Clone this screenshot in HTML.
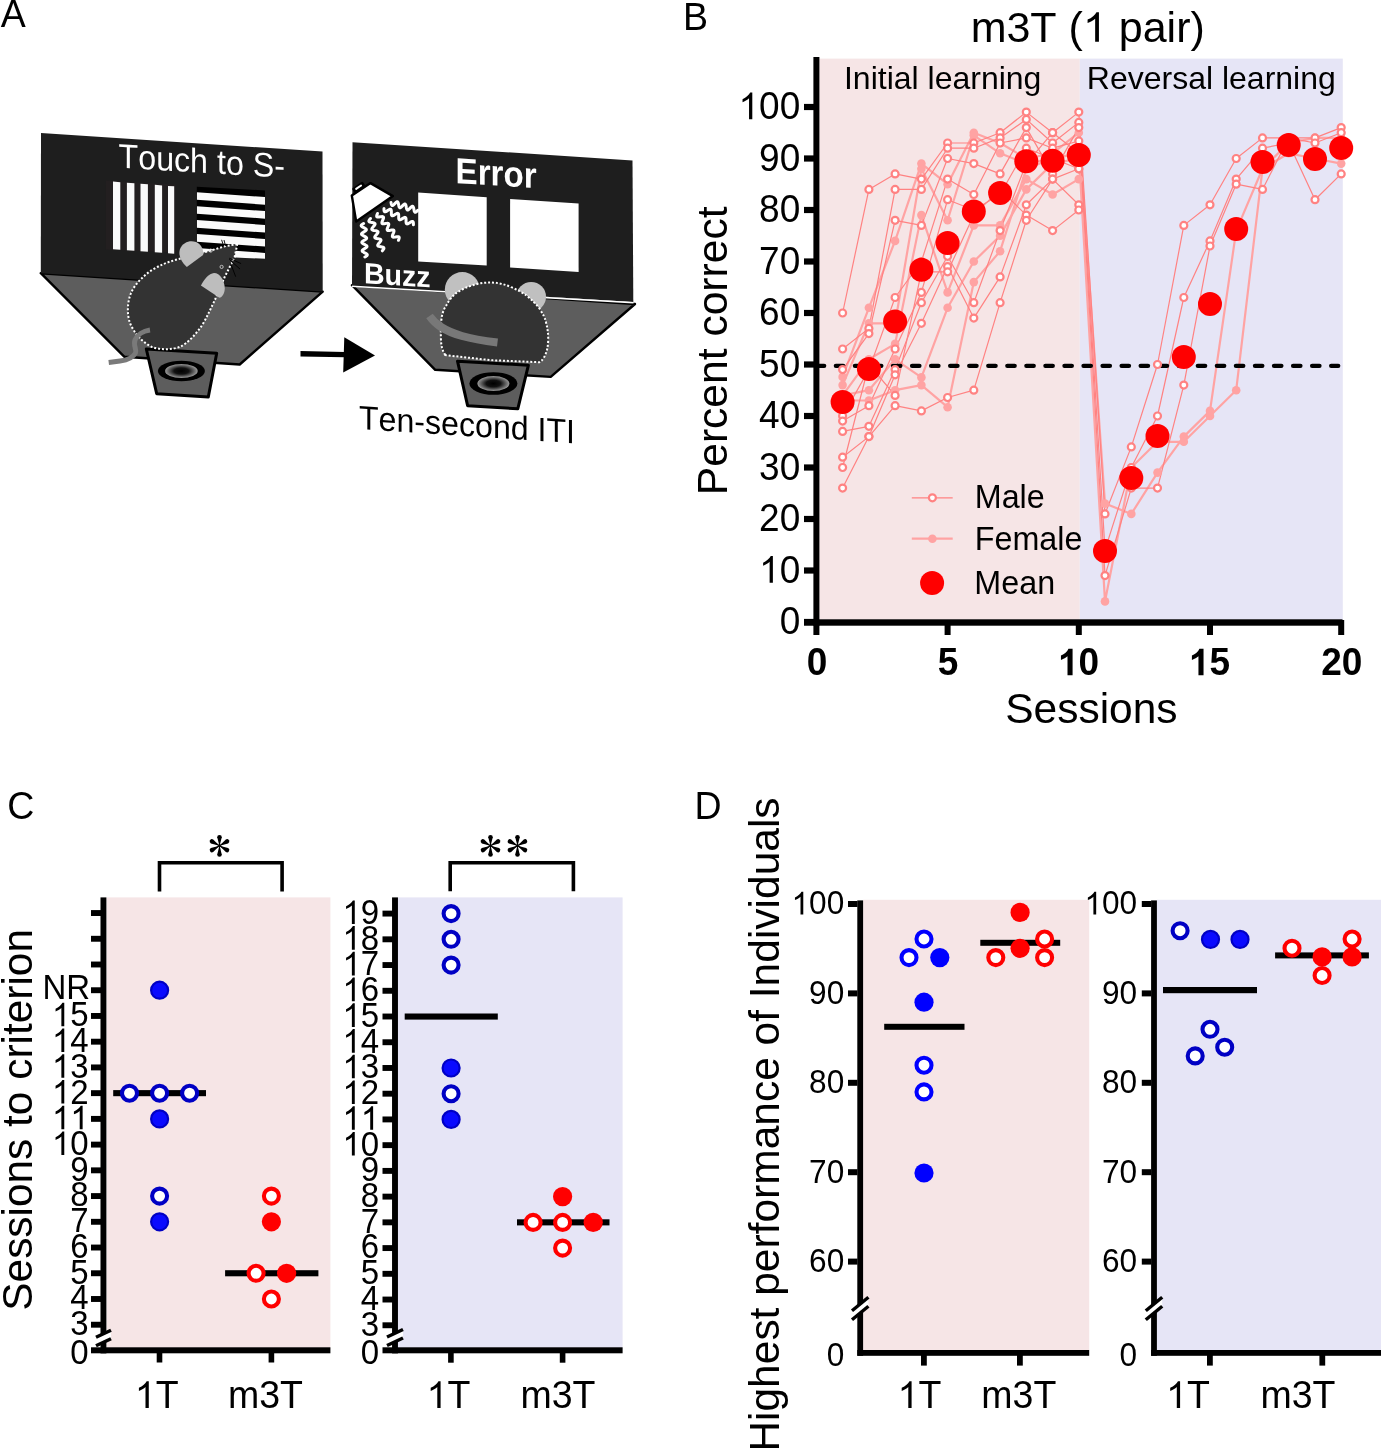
<!DOCTYPE html>
<html><head><meta charset="utf-8"><title>Figure</title>
<style>
html,body{margin:0;padding:0;background:#fff;overflow:hidden;}
svg{display:block;will-change:transform;}
text{font-family:"Liberation Sans",sans-serif;font-kerning:none;}
</style></head><body>
<svg width="1382" height="1448" viewBox="0 0 1382 1448">
<defs><radialGradient id="hole" cx="50%" cy="50%" r="50%"><stop offset="0" stop-color="#000"/><stop offset="0.45" stop-color="#111"/><stop offset="1" stop-color="#9a9a9a"/></radialGradient></defs>
<rect width="1382" height="1448" fill="#fff"/>
<g transform="translate(0.83,26.70) scale(1,1.040)"><text font-size="37.50">A</text></g>
<polygon points="40.8,273.2 322.7,291.6 239.7,364.5 124.2,356.7" fill="#5d5d5d" stroke="#000" stroke-width="2.4" stroke-linejoin="round"/>
<polygon points="41,133 322.5,151.5 322.7,291.6 40.8,273.2" fill="#1e1e1e"/>
<text x="0" y="0" font-size="34" fill="#fff" transform="translate(118.6,167.6) skewY(3.5)" textLength="166.3" lengthAdjust="spacingAndGlyphs">Touch to S-</text>
<polygon points="105.8,180.5 175.5,184.5 175.5,252.5 105.8,249.5" fill="#231f20"/>
<polygon points="113.0,181.60 120.3,182.17 120.3,249.73 113.0,249.20" fill="#fafafa"/>
<polygon points="126.9,182.68 134.4,183.27 134.4,250.76 126.9,250.21" fill="#fafafa"/>
<polygon points="140.5,183.75 147.9,184.32 147.9,251.75 140.5,251.21" fill="#fafafa"/>
<polygon points="154.8,184.86 162.1,185.43 162.1,252.78 154.8,252.25" fill="#fafafa"/>
<polygon points="168.0,185.89 174.2,186.37 174.2,253.67 168.0,253.21" fill="#fafafa"/>
<clipPath id="hgclip"><polygon points="196.8,186.7 265,190.4 265,258.8 196.8,255.8"/></clipPath>
<polygon points="196.8,186.7 265,190.4 265,258.8 196.8,255.8" fill="#000"/>
<g clip-path="url(#hgclip)"><polygon points="196.8,192.20 265,197.10 265,204.70 196.8,199.80" fill="#fafafa"/><polygon points="196.8,206.15 265,211.05 265,218.65 196.8,213.75" fill="#fafafa"/><polygon points="196.8,220.10 265,225.00 265,232.60 196.8,227.70" fill="#fafafa"/><polygon points="196.8,234.05 265,238.95 265,246.55 196.8,241.65" fill="#fafafa"/><polygon points="196.8,248.00 265,252.90 265,260.50 196.8,255.60" fill="#fafafa"/></g>
<polygon points="146.3,349 216.7,353.3 208.3,397 156.7,393.7" fill="#5d5d5d" stroke="#000" stroke-width="3" stroke-linejoin="round"/>
<ellipse cx="181.4" cy="371" rx="23.5" ry="10.3" fill="#000"/>
<ellipse cx="181.4" cy="371" rx="16.3" ry="7" fill="url(#hole)"/>
<path d="M237.3,244.1 L224.8,246.3 L208.5,251.2 L176,259.8 C168,262 160,265 152,270 C143,276 135,284 131,293 C127,303 127,315 130,323 C134,333 142,342 152,347 C160,350 172,350 180.3,346.7 C188,343 196,334 202,325.5 C208,315 212,306 215.1,299.5 L224.8,276.7 L230.3,265.8 L234.6,257.1 Z" fill="#333" stroke="#fff" stroke-width="2" stroke-dasharray="2 1.9"/>
<path d="M186.8,266.9 C181,262 178,255 180,249 C183,242 190,240 196,242 C201,244 204,250 203.1,255 Z" fill="#bdbdbd"/>
<path d="M200.9,285.4 C204,279 209,273.5 214,272.9 C220,273 224.5,280 224.8,288.6 C224.5,294 222,297.5 219.4,297.8 Z" fill="#bdbdbd"/>
<circle cx="221.6" cy="266.9" r="1.6" fill="none" stroke="#ddd" stroke-width="0.8"/>
<circle cx="210.7" cy="250.6" r="1.6" fill="none" stroke="#ddd" stroke-width="0.8"/>
<path d="M229.2,258.2 L241.1,263.6 M229.2,259.3 L240,269.1 M230.3,262.6 L235.7,276.7 M221.6,239.8 L223.7,246.3 M224,240 L225.5,246" stroke="#000" stroke-width="0.9"/>
<path d="M150,330 C143,331 137,335 135,340 C133,345 137,350 135.5,353 C133,358 128,360 120,361 L108.7,362.4" fill="none" stroke="#7a7a7a" stroke-width="5"/>
<polygon points="300.5,351 345,352.1 345,357.2 300.5,356.5" fill="#000"/>
<polygon points="344.3,337.3 375,355.4 343.2,372.4" fill="#000"/>
<polygon points="352,285.2 635,304 550.7,376.9 435.2,369.8" fill="#5d5d5d" stroke="#000" stroke-width="2.4" stroke-linejoin="round"/>
<polygon points="352.5,142.2 632.5,160.5 633.3,302 352,285.2" fill="#1e1e1e"/>
<line x1="352" y1="286.2" x2="633.5" y2="302.8" stroke="#fff" stroke-width="1.6"/>
<text x="0" y="0" font-size="36" font-weight="bold" fill="#fff" transform="translate(455.6,182.9) skewY(3.6)" textLength="81" lengthAdjust="spacingAndGlyphs">Error</text>
<polygon points="418.2,192.5 486.7,197.2 486.7,265.5 418.2,261.5" fill="#fff"/>
<polygon points="510.1,199 578.6,203.5 578.6,272 510.1,267.5" fill="#fff"/>
<text x="0" y="0" font-size="29.5" font-weight="bold" fill="#fff" transform="translate(363.9,283.3) skewY(3.6)" textLength="66.8" lengthAdjust="spacingAndGlyphs">Buzz</text>
<polygon points="351.8,195.5 370.5,183.1 392.9,196.1 356.2,221.6" fill="#fff" stroke="#000" stroke-width="2.4" stroke-linejoin="round"/>
<g transform="translate(358.6,187.2) rotate(-35)"><rect x="-6.5" y="-2.6" width="13" height="5.2" rx="1.2" fill="#000"/><rect x="-4" y="-1" width="8" height="2" rx="1" fill="#fff"/></g>
<polyline points="363.60,223.50 362.66,224.06 361.87,224.62 361.35,225.16 361.18,225.69 361.39,226.21 361.96,226.71 362.79,227.20 363.76,227.69 364.74,228.17 365.57,228.67 366.13,229.17 366.34,229.68 366.17,230.22 365.65,230.76 364.86,231.31 363.93,231.88 362.99,232.44 362.20,232.99 361.68,233.53 361.51,234.07 361.72,234.58 362.28,235.08 363.11,235.58 364.09,236.06 365.06,236.55 365.89,237.04 366.46,237.54 366.67,238.06 366.50,238.59 365.98,239.13 365.19,239.69 364.25,240.25 363.31,240.81 362.52,241.37 362.00,241.91 361.83,242.44 362.04,242.96 362.61,243.46 363.44,243.95 364.41,244.44 365.39,244.92 366.22,245.42 366.78,245.92 366.99,246.43 366.82,246.97 366.30,247.51 365.51,248.06 364.57,248.62 363.64,249.19 362.85,249.74 362.33,250.28 362.16,250.82 362.37,251.33 362.93,251.83 363.76,252.33 364.74,252.81 365.71,253.30 366.54,253.79 367.11,254.29 367.32,254.81 367.15,255.34 366.63,255.88 365.84,256.44 364.90,257.00" fill="none" stroke="#fff" stroke-width="3.0" stroke-linejoin="round" stroke-linecap="round"/>
<polyline points="370.50,218.50 369.79,219.33 369.21,220.12 368.88,220.81 368.89,221.38 369.25,221.82 369.95,222.13 370.89,222.36 371.98,222.54 373.06,222.71 374.00,222.94 374.70,223.26 375.06,223.70 375.07,224.27 374.74,224.96 374.16,225.74 373.45,226.57 372.74,227.41 372.16,228.19 371.83,228.88 371.84,229.45 372.20,229.89 372.90,230.21 373.84,230.44 374.93,230.61 376.01,230.79 376.95,231.02 377.65,231.33 378.01,231.77 378.02,232.34 377.69,233.03 377.11,233.82 376.40,234.65 375.69,235.48 375.11,236.27 374.78,236.96 374.79,237.53 375.15,237.97 375.85,238.28 376.79,238.51 377.88,238.69 378.96,238.86 379.90,239.09 380.60,239.41 380.96,239.85 380.97,240.42 380.64,241.11 380.06,241.89 379.35,242.73 378.64,243.56 378.06,244.34 377.73,245.03 377.74,245.60 378.10,246.04 378.80,246.36 379.74,246.59 380.82,246.76 381.91,246.94 382.85,247.17 383.55,247.48 383.91,247.92 383.92,248.49 383.59,249.18 383.01,249.97 382.30,250.80" fill="none" stroke="#fff" stroke-width="3.0" stroke-linejoin="round" stroke-linecap="round"/>
<polyline points="377.50,213.50 377.07,214.51 376.76,215.42 376.66,216.18 376.83,216.71 377.31,217.01 378.07,217.10 379.03,217.02 380.11,216.85 381.19,216.68 382.16,216.60 382.91,216.69 383.39,216.99 383.57,217.52 383.47,218.28 383.15,219.19 382.73,220.20 382.30,221.21 381.98,222.12 381.88,222.88 382.06,223.41 382.54,223.71 383.29,223.80 384.26,223.72 385.34,223.55 386.42,223.38 387.38,223.30 388.14,223.39 388.62,223.69 388.79,224.22 388.69,224.98 388.38,225.89 387.95,226.90 387.52,227.91 387.21,228.82 387.11,229.58 387.28,230.11 387.76,230.41 388.52,230.50 389.48,230.42 390.56,230.25 391.64,230.08 392.61,230.00 393.36,230.09 393.84,230.39 394.02,230.92 393.92,231.68 393.60,232.59 393.17,233.60 392.75,234.61 392.43,235.52 392.33,236.28 392.51,236.81 392.99,237.11 393.74,237.20 394.71,237.12 395.79,236.95 396.87,236.78 397.83,236.70 398.59,236.79 399.07,237.09 399.24,237.62 399.14,238.38 398.83,239.29 398.40,240.30" fill="none" stroke="#fff" stroke-width="3.0" stroke-linejoin="round" stroke-linecap="round"/>
<polyline points="384.00,208.50 384.00,209.59 384.07,210.55 384.26,211.28 384.63,211.70 385.18,211.79 385.90,211.57 386.75,211.11 387.68,210.53 388.60,209.94 389.45,209.48 390.17,209.26 390.72,209.35 391.09,209.77 391.28,210.50 391.35,211.46 391.35,212.55 391.35,213.64 391.42,214.60 391.61,215.33 391.98,215.75 392.53,215.84 393.25,215.62 394.10,215.16 395.02,214.57 395.95,213.99 396.80,213.53 397.52,213.31 398.07,213.40 398.44,213.82 398.63,214.55 398.70,215.51 398.70,216.60 398.70,217.69 398.77,218.65 398.96,219.38 399.33,219.80 399.88,219.89 400.60,219.67 401.45,219.21 402.38,218.62 403.30,218.04 404.15,217.58 404.87,217.36 405.42,217.45 405.79,217.87 405.98,218.60 406.05,219.56 406.05,220.65 406.05,221.74 406.12,222.70 406.31,223.43 406.68,223.85 407.23,223.94 407.95,223.72 408.80,223.26 409.72,222.67 410.65,222.09 411.50,221.63 412.22,221.41 412.77,221.50 413.14,221.92 413.33,222.65 413.40,223.61 413.40,224.70" fill="none" stroke="#fff" stroke-width="3.0" stroke-linejoin="round" stroke-linecap="round"/>
<polyline points="391.00,202.50 391.21,203.56 391.45,204.48 391.78,205.14 392.20,205.46 392.73,205.42 393.36,205.04 394.07,204.40 394.81,203.63 395.56,202.85 396.27,202.22 396.90,201.84 397.43,201.80 397.85,202.12 398.18,202.78 398.42,203.70 398.63,204.76 398.83,205.82 399.08,206.73 399.40,207.40 399.83,207.72 400.36,207.68 400.99,207.30 401.69,206.66 402.44,205.89 403.19,205.11 403.90,204.47 404.53,204.09 405.06,204.05 405.48,204.38 405.81,205.04 406.05,205.96 406.26,207.01 406.46,208.07 406.71,208.99 407.03,209.65 407.45,209.98 407.99,209.93 408.62,209.56 409.32,208.92 410.07,208.14 410.82,207.37 411.53,206.73 412.16,206.35 412.69,206.31 413.11,206.63 413.43,207.29 413.68,208.21 413.89,209.27 414.09,210.33 414.34,211.25 414.66,211.91 415.08,212.23 415.61,212.19 416.24,211.81 416.95,211.18 417.70,210.40" fill="none" stroke="#fff" stroke-width="3.0" stroke-linejoin="round" stroke-linecap="round"/>
<circle cx="462.3" cy="289.6" r="17.5" fill="#c0c0c0"/>
<circle cx="531.2" cy="296.8" r="14.8" fill="#c0c0c0"/>
<path d="M445.3,355.1 C442,350 441,345 440.9,338 C440.7,330 441,322 441.8,316.6 C443,311 444.5,308 446.3,305.5 C449,300 452,297 455,294 C460,290 468,286 480.8,283.2 C490,282 500,282 511.2,287.2 C518,290 523,293 526.4,295.3 C532,300 536,304 539.5,308.5 C543,314 545,318 545.6,320.7 C547.5,328 548.3,333 548.2,340 C548,347 547,352 543.6,358.1 C542,360.5 541,361.5 539.5,362.2 L490.9,360.2 Z" fill="#333" stroke="#fff" stroke-width="2" stroke-dasharray="2 1.9"/>
<path d="M429.5,316 C433,321 437,324.5 441,327 C448,331.5 455,334 462,336 C474,339.5 485,341 497.5,342.5" fill="none" stroke="#787878" stroke-width="8"/>
<polygon points="457.5,361.2 528.4,365.2 517.8,408.8 467.6,405.7" fill="#5d5d5d" stroke="#000" stroke-width="3" stroke-linejoin="round"/>
<ellipse cx="493.4" cy="383.5" rx="24" ry="11.3" fill="#000"/>
<ellipse cx="493.4" cy="383.5" rx="16" ry="7.5" fill="url(#hole)"/>
<text x="0" y="0" font-size="33.5" fill="#000" transform="translate(359,428.9) skewY(3.8)" textLength="216" lengthAdjust="spacingAndGlyphs">Ten-second ITI</text>
<g transform="translate(682.92,29.90) scale(1,1.040)"><text font-size="37.50">B</text></g>
<rect x="819.2" y="58.6" width="260.6" height="562" fill="#f6e5e6"/>
<rect x="1079.8" y="58.6" width="263" height="562" fill="#e6e5f6"/>
<g transform="translate(970.64,41.80) scale(1,1.000)"><text font-size="43.00">m3T (  pair)</text><path d="M763 0L583 0L583 1098Q518 1038 412.5 979Q307 920 223 890L223 1057Q374 1124 487 1221Q600 1318 647 1409L763 1409Z" transform="translate(112.27,0) scale(0.02100,-0.02100)"/></g>
<g transform="translate(843.95,88.90) scale(1,1.000)"><text font-size="32.00">Initial learning</text></g>
<g transform="translate(1086.78,89.20) scale(1,1.000)"><text font-size="32.00">Reversal learning</text></g>
<polyline points="842.6,376.9 868.9,307.8 895.1,240.9 921.4,163.6 947.6,184.2 973.8,132.7 1000.1,143.0 1026.3,158.5 1052.6,153.3 1078.8,132.7" fill="none" stroke="#ffa3a3" stroke-width="2.2" stroke-linejoin="round"/>
<polyline points="842.6,385.1 868.9,323.3 895.1,323.3 921.4,168.8 947.6,220.3 973.8,135.3 1000.1,153.3 1026.3,163.6 1052.6,158.5 1078.8,153.3" fill="none" stroke="#ffa3a3" stroke-width="2.2" stroke-linejoin="round"/>
<polyline points="842.6,395.4 868.9,359.3 895.1,343.9 921.4,215.1 947.6,292.4 973.8,225.4 1000.1,225.4 1026.3,179.1 1052.6,194.5 1078.8,179.1" fill="none" stroke="#ffa3a3" stroke-width="2.2" stroke-linejoin="round"/>
<polyline points="842.6,395.4 868.9,390.2 895.1,359.3 921.4,377.4 947.6,307.8 973.8,261.5 1000.1,235.8 1026.3,189.4 1052.6,163.6 1078.8,158.5" fill="none" stroke="#ffa3a3" stroke-width="2.2" stroke-linejoin="round"/>
<polyline points="842.6,400.5 868.9,400.5 895.1,390.2 921.4,385.1 947.6,407.2 973.8,282.1 1000.1,251.2 1026.3,168.8 1052.6,158.5 1078.8,153.3" fill="none" stroke="#ffa3a3" stroke-width="2.2" stroke-linejoin="round"/>
<polyline points="1078.8,132.7 1105.0,503.6 1131.3,513.9 1157.5,472.6 1183.8,436.6 1210.0,410.9 1236.2,230.6 1262.5,168.8 1288.7,143.0 1315.0,137.9 1341.2,137.9" fill="none" stroke="#ffa3a3" stroke-width="2.2" stroke-linejoin="round"/>
<polyline points="1078.8,153.3 1105.0,601.4 1131.3,467.5 1157.5,441.8 1183.8,441.8 1210.0,416.0 1236.2,390.2 1262.5,168.8 1288.7,153.3 1315.0,158.5 1341.2,163.6" fill="none" stroke="#ffa3a3" stroke-width="2.2" stroke-linejoin="round"/>
<polyline points="842.6,313.0 868.9,189.4 895.1,173.9 921.4,179.1 947.6,143.0 973.8,143.0 1000.1,132.7 1026.3,112.1 1052.6,132.7 1078.8,112.1" fill="none" stroke="#ff8282" stroke-width="1.2" stroke-linejoin="round"/>
<polyline points="842.6,349.0 868.9,328.4 895.1,189.4 921.4,189.4 947.6,148.2 973.8,148.2 1000.1,137.9 1026.3,119.4 1052.6,143.0 1078.8,122.4" fill="none" stroke="#ff8282" stroke-width="1.2" stroke-linejoin="round"/>
<polyline points="842.6,369.6 868.9,333.6 895.1,220.3 921.4,225.4 947.6,158.5 973.8,163.6 1000.1,173.9 1026.3,127.6 1052.6,173.9 1078.8,127.6" fill="none" stroke="#ff8282" stroke-width="1.2" stroke-linejoin="round"/>
<polyline points="842.6,416.0 868.9,369.6 895.1,297.5 921.4,261.5 947.6,179.1 973.8,194.5 1000.1,143.0 1026.3,137.9 1052.6,148.2 1078.8,141.0" fill="none" stroke="#ff8282" stroke-width="1.2" stroke-linejoin="round"/>
<polyline points="842.6,421.1 868.9,405.7 895.1,349.0 921.4,292.4 947.6,199.7 973.8,210.0 1000.1,194.5 1026.3,148.2 1052.6,158.5 1078.8,168.8" fill="none" stroke="#ff8282" stroke-width="1.2" stroke-linejoin="round"/>
<polyline points="842.6,431.4 868.9,426.3 895.1,369.6 921.4,302.7 947.6,256.3 973.8,302.7 1000.1,230.6 1026.3,163.6 1052.6,132.7 1078.8,153.3" fill="none" stroke="#ff8282" stroke-width="1.2" stroke-linejoin="round"/>
<polyline points="842.6,457.2 868.9,436.6 895.1,374.8 921.4,323.3 947.6,266.6 973.8,318.1 1000.1,276.9 1026.3,204.8 1052.6,179.1 1078.8,204.8" fill="none" stroke="#ff8282" stroke-width="1.2" stroke-linejoin="round"/>
<polyline points="842.6,467.5 868.9,364.5 895.1,395.4 921.4,271.8 947.6,271.8 973.8,215.1 1000.1,189.4 1026.3,215.1 1052.6,230.6 1078.8,210.0" fill="none" stroke="#ff8282" stroke-width="1.2" stroke-linejoin="round"/>
<polyline points="842.6,488.1 868.9,436.6 895.1,405.7 921.4,410.9 947.6,397.5 973.8,390.2 1000.1,302.7 1026.3,220.3 1052.6,179.1 1078.8,168.8" fill="none" stroke="#ff8282" stroke-width="1.2" stroke-linejoin="round"/>
<polyline points="1078.8,112.1 1105.0,513.9 1131.3,446.9 1157.5,364.5 1183.8,225.4 1210.0,204.8 1236.2,158.5 1262.5,137.9 1288.7,137.9 1315.0,137.9 1341.2,127.6" fill="none" stroke="#ff8282" stroke-width="1.2" stroke-linejoin="round"/>
<polyline points="1078.8,122.4 1105.0,549.9 1131.3,467.5 1157.5,416.0 1183.8,297.5 1210.0,240.9 1236.2,179.1 1262.5,148.2 1288.7,143.0 1315.0,199.7 1341.2,173.9" fill="none" stroke="#ff8282" stroke-width="1.2" stroke-linejoin="round"/>
<polyline points="1078.8,127.6 1105.0,575.6 1131.3,488.1 1157.5,488.1 1183.8,385.1 1210.0,246.0 1236.2,184.2 1262.5,189.4 1288.7,137.9 1315.0,143.0 1341.2,132.7" fill="none" stroke="#ff8282" stroke-width="1.2" stroke-linejoin="round"/>
<line x1="816.85" y1="365.85" x2="1338.2" y2="365.85" stroke="#000" stroke-width="4.4" stroke-dasharray="7.3 11.75" stroke-linecap="round"/>
<circle cx="842.6" cy="376.9" r="4.3" fill="#ffa3a3"/>
<circle cx="868.9" cy="307.8" r="4.3" fill="#ffa3a3"/>
<circle cx="895.1" cy="240.9" r="4.3" fill="#ffa3a3"/>
<circle cx="921.4" cy="163.6" r="4.3" fill="#ffa3a3"/>
<circle cx="947.6" cy="184.2" r="4.3" fill="#ffa3a3"/>
<circle cx="973.8" cy="132.7" r="4.3" fill="#ffa3a3"/>
<circle cx="1000.1" cy="143.0" r="4.3" fill="#ffa3a3"/>
<circle cx="1026.3" cy="158.5" r="4.3" fill="#ffa3a3"/>
<circle cx="1052.6" cy="153.3" r="4.3" fill="#ffa3a3"/>
<circle cx="1078.8" cy="132.7" r="4.3" fill="#ffa3a3"/>
<circle cx="842.6" cy="385.1" r="4.3" fill="#ffa3a3"/>
<circle cx="868.9" cy="323.3" r="4.3" fill="#ffa3a3"/>
<circle cx="895.1" cy="323.3" r="4.3" fill="#ffa3a3"/>
<circle cx="921.4" cy="168.8" r="4.3" fill="#ffa3a3"/>
<circle cx="947.6" cy="220.3" r="4.3" fill="#ffa3a3"/>
<circle cx="973.8" cy="135.3" r="4.3" fill="#ffa3a3"/>
<circle cx="1000.1" cy="153.3" r="4.3" fill="#ffa3a3"/>
<circle cx="1026.3" cy="163.6" r="4.3" fill="#ffa3a3"/>
<circle cx="1052.6" cy="158.5" r="4.3" fill="#ffa3a3"/>
<circle cx="1078.8" cy="153.3" r="4.3" fill="#ffa3a3"/>
<circle cx="842.6" cy="395.4" r="4.3" fill="#ffa3a3"/>
<circle cx="868.9" cy="359.3" r="4.3" fill="#ffa3a3"/>
<circle cx="895.1" cy="343.9" r="4.3" fill="#ffa3a3"/>
<circle cx="921.4" cy="215.1" r="4.3" fill="#ffa3a3"/>
<circle cx="947.6" cy="292.4" r="4.3" fill="#ffa3a3"/>
<circle cx="973.8" cy="225.4" r="4.3" fill="#ffa3a3"/>
<circle cx="1000.1" cy="225.4" r="4.3" fill="#ffa3a3"/>
<circle cx="1026.3" cy="179.1" r="4.3" fill="#ffa3a3"/>
<circle cx="1052.6" cy="194.5" r="4.3" fill="#ffa3a3"/>
<circle cx="1078.8" cy="179.1" r="4.3" fill="#ffa3a3"/>
<circle cx="842.6" cy="395.4" r="4.3" fill="#ffa3a3"/>
<circle cx="868.9" cy="390.2" r="4.3" fill="#ffa3a3"/>
<circle cx="895.1" cy="359.3" r="4.3" fill="#ffa3a3"/>
<circle cx="921.4" cy="377.4" r="4.3" fill="#ffa3a3"/>
<circle cx="947.6" cy="307.8" r="4.3" fill="#ffa3a3"/>
<circle cx="973.8" cy="261.5" r="4.3" fill="#ffa3a3"/>
<circle cx="1000.1" cy="235.8" r="4.3" fill="#ffa3a3"/>
<circle cx="1026.3" cy="189.4" r="4.3" fill="#ffa3a3"/>
<circle cx="1052.6" cy="163.6" r="4.3" fill="#ffa3a3"/>
<circle cx="1078.8" cy="158.5" r="4.3" fill="#ffa3a3"/>
<circle cx="842.6" cy="400.5" r="4.3" fill="#ffa3a3"/>
<circle cx="868.9" cy="400.5" r="4.3" fill="#ffa3a3"/>
<circle cx="895.1" cy="390.2" r="4.3" fill="#ffa3a3"/>
<circle cx="921.4" cy="385.1" r="4.3" fill="#ffa3a3"/>
<circle cx="947.6" cy="407.2" r="4.3" fill="#ffa3a3"/>
<circle cx="973.8" cy="282.1" r="4.3" fill="#ffa3a3"/>
<circle cx="1000.1" cy="251.2" r="4.3" fill="#ffa3a3"/>
<circle cx="1026.3" cy="168.8" r="4.3" fill="#ffa3a3"/>
<circle cx="1052.6" cy="158.5" r="4.3" fill="#ffa3a3"/>
<circle cx="1078.8" cy="153.3" r="4.3" fill="#ffa3a3"/>
<circle cx="1105.0" cy="503.6" r="4.3" fill="#ffa3a3"/>
<circle cx="1131.3" cy="513.9" r="4.3" fill="#ffa3a3"/>
<circle cx="1157.5" cy="472.6" r="4.3" fill="#ffa3a3"/>
<circle cx="1183.8" cy="436.6" r="4.3" fill="#ffa3a3"/>
<circle cx="1210.0" cy="410.9" r="4.3" fill="#ffa3a3"/>
<circle cx="1236.2" cy="230.6" r="4.3" fill="#ffa3a3"/>
<circle cx="1262.5" cy="168.8" r="4.3" fill="#ffa3a3"/>
<circle cx="1288.7" cy="143.0" r="4.3" fill="#ffa3a3"/>
<circle cx="1315.0" cy="137.9" r="4.3" fill="#ffa3a3"/>
<circle cx="1341.2" cy="137.9" r="4.3" fill="#ffa3a3"/>
<circle cx="1105.0" cy="601.4" r="4.3" fill="#ffa3a3"/>
<circle cx="1131.3" cy="467.5" r="4.3" fill="#ffa3a3"/>
<circle cx="1157.5" cy="441.8" r="4.3" fill="#ffa3a3"/>
<circle cx="1183.8" cy="441.8" r="4.3" fill="#ffa3a3"/>
<circle cx="1210.0" cy="416.0" r="4.3" fill="#ffa3a3"/>
<circle cx="1236.2" cy="390.2" r="4.3" fill="#ffa3a3"/>
<circle cx="1262.5" cy="168.8" r="4.3" fill="#ffa3a3"/>
<circle cx="1288.7" cy="153.3" r="4.3" fill="#ffa3a3"/>
<circle cx="1315.0" cy="158.5" r="4.3" fill="#ffa3a3"/>
<circle cx="1341.2" cy="163.6" r="4.3" fill="#ffa3a3"/>
<circle cx="842.6" cy="313.0" r="3.5" fill="#fff" stroke="#ff8282" stroke-width="2.2"/>
<circle cx="868.9" cy="189.4" r="3.5" fill="#fff" stroke="#ff8282" stroke-width="2.2"/>
<circle cx="895.1" cy="173.9" r="3.5" fill="#fff" stroke="#ff8282" stroke-width="2.2"/>
<circle cx="921.4" cy="179.1" r="3.5" fill="#fff" stroke="#ff8282" stroke-width="2.2"/>
<circle cx="947.6" cy="143.0" r="3.5" fill="#fff" stroke="#ff8282" stroke-width="2.2"/>
<circle cx="973.8" cy="143.0" r="3.5" fill="#fff" stroke="#ff8282" stroke-width="2.2"/>
<circle cx="1000.1" cy="132.7" r="3.5" fill="#fff" stroke="#ff8282" stroke-width="2.2"/>
<circle cx="1026.3" cy="112.1" r="3.5" fill="#fff" stroke="#ff8282" stroke-width="2.2"/>
<circle cx="1052.6" cy="132.7" r="3.5" fill="#fff" stroke="#ff8282" stroke-width="2.2"/>
<circle cx="1078.8" cy="112.1" r="3.5" fill="#fff" stroke="#ff8282" stroke-width="2.2"/>
<circle cx="842.6" cy="349.0" r="3.5" fill="#fff" stroke="#ff8282" stroke-width="2.2"/>
<circle cx="868.9" cy="328.4" r="3.5" fill="#fff" stroke="#ff8282" stroke-width="2.2"/>
<circle cx="895.1" cy="189.4" r="3.5" fill="#fff" stroke="#ff8282" stroke-width="2.2"/>
<circle cx="921.4" cy="189.4" r="3.5" fill="#fff" stroke="#ff8282" stroke-width="2.2"/>
<circle cx="947.6" cy="148.2" r="3.5" fill="#fff" stroke="#ff8282" stroke-width="2.2"/>
<circle cx="973.8" cy="148.2" r="3.5" fill="#fff" stroke="#ff8282" stroke-width="2.2"/>
<circle cx="1000.1" cy="137.9" r="3.5" fill="#fff" stroke="#ff8282" stroke-width="2.2"/>
<circle cx="1026.3" cy="119.4" r="3.5" fill="#fff" stroke="#ff8282" stroke-width="2.2"/>
<circle cx="1052.6" cy="143.0" r="3.5" fill="#fff" stroke="#ff8282" stroke-width="2.2"/>
<circle cx="1078.8" cy="122.4" r="3.5" fill="#fff" stroke="#ff8282" stroke-width="2.2"/>
<circle cx="842.6" cy="369.6" r="3.5" fill="#fff" stroke="#ff8282" stroke-width="2.2"/>
<circle cx="868.9" cy="333.6" r="3.5" fill="#fff" stroke="#ff8282" stroke-width="2.2"/>
<circle cx="895.1" cy="220.3" r="3.5" fill="#fff" stroke="#ff8282" stroke-width="2.2"/>
<circle cx="921.4" cy="225.4" r="3.5" fill="#fff" stroke="#ff8282" stroke-width="2.2"/>
<circle cx="947.6" cy="158.5" r="3.5" fill="#fff" stroke="#ff8282" stroke-width="2.2"/>
<circle cx="973.8" cy="163.6" r="3.5" fill="#fff" stroke="#ff8282" stroke-width="2.2"/>
<circle cx="1000.1" cy="173.9" r="3.5" fill="#fff" stroke="#ff8282" stroke-width="2.2"/>
<circle cx="1026.3" cy="127.6" r="3.5" fill="#fff" stroke="#ff8282" stroke-width="2.2"/>
<circle cx="1052.6" cy="173.9" r="3.5" fill="#fff" stroke="#ff8282" stroke-width="2.2"/>
<circle cx="1078.8" cy="127.6" r="3.5" fill="#fff" stroke="#ff8282" stroke-width="2.2"/>
<circle cx="842.6" cy="416.0" r="3.5" fill="#fff" stroke="#ff8282" stroke-width="2.2"/>
<circle cx="868.9" cy="369.6" r="3.5" fill="#fff" stroke="#ff8282" stroke-width="2.2"/>
<circle cx="895.1" cy="297.5" r="3.5" fill="#fff" stroke="#ff8282" stroke-width="2.2"/>
<circle cx="921.4" cy="261.5" r="3.5" fill="#fff" stroke="#ff8282" stroke-width="2.2"/>
<circle cx="947.6" cy="179.1" r="3.5" fill="#fff" stroke="#ff8282" stroke-width="2.2"/>
<circle cx="973.8" cy="194.5" r="3.5" fill="#fff" stroke="#ff8282" stroke-width="2.2"/>
<circle cx="1000.1" cy="143.0" r="3.5" fill="#fff" stroke="#ff8282" stroke-width="2.2"/>
<circle cx="1026.3" cy="137.9" r="3.5" fill="#fff" stroke="#ff8282" stroke-width="2.2"/>
<circle cx="1052.6" cy="148.2" r="3.5" fill="#fff" stroke="#ff8282" stroke-width="2.2"/>
<circle cx="1078.8" cy="141.0" r="3.5" fill="#fff" stroke="#ff8282" stroke-width="2.2"/>
<circle cx="842.6" cy="421.1" r="3.5" fill="#fff" stroke="#ff8282" stroke-width="2.2"/>
<circle cx="868.9" cy="405.7" r="3.5" fill="#fff" stroke="#ff8282" stroke-width="2.2"/>
<circle cx="895.1" cy="349.0" r="3.5" fill="#fff" stroke="#ff8282" stroke-width="2.2"/>
<circle cx="921.4" cy="292.4" r="3.5" fill="#fff" stroke="#ff8282" stroke-width="2.2"/>
<circle cx="947.6" cy="199.7" r="3.5" fill="#fff" stroke="#ff8282" stroke-width="2.2"/>
<circle cx="973.8" cy="210.0" r="3.5" fill="#fff" stroke="#ff8282" stroke-width="2.2"/>
<circle cx="1000.1" cy="194.5" r="3.5" fill="#fff" stroke="#ff8282" stroke-width="2.2"/>
<circle cx="1026.3" cy="148.2" r="3.5" fill="#fff" stroke="#ff8282" stroke-width="2.2"/>
<circle cx="1052.6" cy="158.5" r="3.5" fill="#fff" stroke="#ff8282" stroke-width="2.2"/>
<circle cx="1078.8" cy="168.8" r="3.5" fill="#fff" stroke="#ff8282" stroke-width="2.2"/>
<circle cx="842.6" cy="431.4" r="3.5" fill="#fff" stroke="#ff8282" stroke-width="2.2"/>
<circle cx="868.9" cy="426.3" r="3.5" fill="#fff" stroke="#ff8282" stroke-width="2.2"/>
<circle cx="895.1" cy="369.6" r="3.5" fill="#fff" stroke="#ff8282" stroke-width="2.2"/>
<circle cx="921.4" cy="302.7" r="3.5" fill="#fff" stroke="#ff8282" stroke-width="2.2"/>
<circle cx="947.6" cy="256.3" r="3.5" fill="#fff" stroke="#ff8282" stroke-width="2.2"/>
<circle cx="973.8" cy="302.7" r="3.5" fill="#fff" stroke="#ff8282" stroke-width="2.2"/>
<circle cx="1000.1" cy="230.6" r="3.5" fill="#fff" stroke="#ff8282" stroke-width="2.2"/>
<circle cx="1026.3" cy="163.6" r="3.5" fill="#fff" stroke="#ff8282" stroke-width="2.2"/>
<circle cx="1052.6" cy="132.7" r="3.5" fill="#fff" stroke="#ff8282" stroke-width="2.2"/>
<circle cx="1078.8" cy="153.3" r="3.5" fill="#fff" stroke="#ff8282" stroke-width="2.2"/>
<circle cx="842.6" cy="457.2" r="3.5" fill="#fff" stroke="#ff8282" stroke-width="2.2"/>
<circle cx="868.9" cy="436.6" r="3.5" fill="#fff" stroke="#ff8282" stroke-width="2.2"/>
<circle cx="895.1" cy="374.8" r="3.5" fill="#fff" stroke="#ff8282" stroke-width="2.2"/>
<circle cx="921.4" cy="323.3" r="3.5" fill="#fff" stroke="#ff8282" stroke-width="2.2"/>
<circle cx="947.6" cy="266.6" r="3.5" fill="#fff" stroke="#ff8282" stroke-width="2.2"/>
<circle cx="973.8" cy="318.1" r="3.5" fill="#fff" stroke="#ff8282" stroke-width="2.2"/>
<circle cx="1000.1" cy="276.9" r="3.5" fill="#fff" stroke="#ff8282" stroke-width="2.2"/>
<circle cx="1026.3" cy="204.8" r="3.5" fill="#fff" stroke="#ff8282" stroke-width="2.2"/>
<circle cx="1052.6" cy="179.1" r="3.5" fill="#fff" stroke="#ff8282" stroke-width="2.2"/>
<circle cx="1078.8" cy="204.8" r="3.5" fill="#fff" stroke="#ff8282" stroke-width="2.2"/>
<circle cx="842.6" cy="467.5" r="3.5" fill="#fff" stroke="#ff8282" stroke-width="2.2"/>
<circle cx="868.9" cy="364.5" r="3.5" fill="#fff" stroke="#ff8282" stroke-width="2.2"/>
<circle cx="895.1" cy="395.4" r="3.5" fill="#fff" stroke="#ff8282" stroke-width="2.2"/>
<circle cx="921.4" cy="271.8" r="3.5" fill="#fff" stroke="#ff8282" stroke-width="2.2"/>
<circle cx="947.6" cy="271.8" r="3.5" fill="#fff" stroke="#ff8282" stroke-width="2.2"/>
<circle cx="973.8" cy="215.1" r="3.5" fill="#fff" stroke="#ff8282" stroke-width="2.2"/>
<circle cx="1000.1" cy="189.4" r="3.5" fill="#fff" stroke="#ff8282" stroke-width="2.2"/>
<circle cx="1026.3" cy="215.1" r="3.5" fill="#fff" stroke="#ff8282" stroke-width="2.2"/>
<circle cx="1052.6" cy="230.6" r="3.5" fill="#fff" stroke="#ff8282" stroke-width="2.2"/>
<circle cx="1078.8" cy="210.0" r="3.5" fill="#fff" stroke="#ff8282" stroke-width="2.2"/>
<circle cx="842.6" cy="488.1" r="3.5" fill="#fff" stroke="#ff8282" stroke-width="2.2"/>
<circle cx="868.9" cy="436.6" r="3.5" fill="#fff" stroke="#ff8282" stroke-width="2.2"/>
<circle cx="895.1" cy="405.7" r="3.5" fill="#fff" stroke="#ff8282" stroke-width="2.2"/>
<circle cx="921.4" cy="410.9" r="3.5" fill="#fff" stroke="#ff8282" stroke-width="2.2"/>
<circle cx="947.6" cy="397.5" r="3.5" fill="#fff" stroke="#ff8282" stroke-width="2.2"/>
<circle cx="973.8" cy="390.2" r="3.5" fill="#fff" stroke="#ff8282" stroke-width="2.2"/>
<circle cx="1000.1" cy="302.7" r="3.5" fill="#fff" stroke="#ff8282" stroke-width="2.2"/>
<circle cx="1026.3" cy="220.3" r="3.5" fill="#fff" stroke="#ff8282" stroke-width="2.2"/>
<circle cx="1052.6" cy="179.1" r="3.5" fill="#fff" stroke="#ff8282" stroke-width="2.2"/>
<circle cx="1078.8" cy="168.8" r="3.5" fill="#fff" stroke="#ff8282" stroke-width="2.2"/>
<circle cx="1105.0" cy="513.9" r="3.5" fill="#fff" stroke="#ff8282" stroke-width="2.2"/>
<circle cx="1131.3" cy="446.9" r="3.5" fill="#fff" stroke="#ff8282" stroke-width="2.2"/>
<circle cx="1157.5" cy="364.5" r="3.5" fill="#fff" stroke="#ff8282" stroke-width="2.2"/>
<circle cx="1183.8" cy="225.4" r="3.5" fill="#fff" stroke="#ff8282" stroke-width="2.2"/>
<circle cx="1210.0" cy="204.8" r="3.5" fill="#fff" stroke="#ff8282" stroke-width="2.2"/>
<circle cx="1236.2" cy="158.5" r="3.5" fill="#fff" stroke="#ff8282" stroke-width="2.2"/>
<circle cx="1262.5" cy="137.9" r="3.5" fill="#fff" stroke="#ff8282" stroke-width="2.2"/>
<circle cx="1288.7" cy="137.9" r="3.5" fill="#fff" stroke="#ff8282" stroke-width="2.2"/>
<circle cx="1315.0" cy="137.9" r="3.5" fill="#fff" stroke="#ff8282" stroke-width="2.2"/>
<circle cx="1341.2" cy="127.6" r="3.5" fill="#fff" stroke="#ff8282" stroke-width="2.2"/>
<circle cx="1105.0" cy="549.9" r="3.5" fill="#fff" stroke="#ff8282" stroke-width="2.2"/>
<circle cx="1131.3" cy="467.5" r="3.5" fill="#fff" stroke="#ff8282" stroke-width="2.2"/>
<circle cx="1157.5" cy="416.0" r="3.5" fill="#fff" stroke="#ff8282" stroke-width="2.2"/>
<circle cx="1183.8" cy="297.5" r="3.5" fill="#fff" stroke="#ff8282" stroke-width="2.2"/>
<circle cx="1210.0" cy="240.9" r="3.5" fill="#fff" stroke="#ff8282" stroke-width="2.2"/>
<circle cx="1236.2" cy="179.1" r="3.5" fill="#fff" stroke="#ff8282" stroke-width="2.2"/>
<circle cx="1262.5" cy="148.2" r="3.5" fill="#fff" stroke="#ff8282" stroke-width="2.2"/>
<circle cx="1288.7" cy="143.0" r="3.5" fill="#fff" stroke="#ff8282" stroke-width="2.2"/>
<circle cx="1315.0" cy="199.7" r="3.5" fill="#fff" stroke="#ff8282" stroke-width="2.2"/>
<circle cx="1341.2" cy="173.9" r="3.5" fill="#fff" stroke="#ff8282" stroke-width="2.2"/>
<circle cx="1105.0" cy="575.6" r="3.5" fill="#fff" stroke="#ff8282" stroke-width="2.2"/>
<circle cx="1131.3" cy="488.1" r="3.5" fill="#fff" stroke="#ff8282" stroke-width="2.2"/>
<circle cx="1157.5" cy="488.1" r="3.5" fill="#fff" stroke="#ff8282" stroke-width="2.2"/>
<circle cx="1183.8" cy="385.1" r="3.5" fill="#fff" stroke="#ff8282" stroke-width="2.2"/>
<circle cx="1210.0" cy="246.0" r="3.5" fill="#fff" stroke="#ff8282" stroke-width="2.2"/>
<circle cx="1236.2" cy="184.2" r="3.5" fill="#fff" stroke="#ff8282" stroke-width="2.2"/>
<circle cx="1262.5" cy="189.4" r="3.5" fill="#fff" stroke="#ff8282" stroke-width="2.2"/>
<circle cx="1288.7" cy="137.9" r="3.5" fill="#fff" stroke="#ff8282" stroke-width="2.2"/>
<circle cx="1315.0" cy="143.0" r="3.5" fill="#fff" stroke="#ff8282" stroke-width="2.2"/>
<circle cx="1341.2" cy="132.7" r="3.5" fill="#fff" stroke="#ff8282" stroke-width="2.2"/>
<circle cx="842.6" cy="402.0" r="12" fill="#ff0000"/>
<circle cx="868.9" cy="369.0" r="12" fill="#ff0000"/>
<circle cx="895.1" cy="321.5" r="12" fill="#ff0000"/>
<circle cx="921.4" cy="269.7" r="12" fill="#ff0000"/>
<circle cx="947.6" cy="243.0" r="12" fill="#ff0000"/>
<circle cx="973.8" cy="211.5" r="12" fill="#ff0000"/>
<circle cx="1000.1" cy="193.0" r="12" fill="#ff0000"/>
<circle cx="1026.3" cy="161.3" r="12" fill="#ff0000"/>
<circle cx="1052.6" cy="160.7" r="12" fill="#ff0000"/>
<circle cx="1078.8" cy="155.0" r="12" fill="#ff0000"/>
<circle cx="1105.0" cy="551.0" r="12" fill="#ff0000"/>
<circle cx="1131.3" cy="478.0" r="12" fill="#ff0000"/>
<circle cx="1157.5" cy="436.0" r="12" fill="#ff0000"/>
<circle cx="1183.8" cy="357.0" r="12" fill="#ff0000"/>
<circle cx="1210.0" cy="304.0" r="12" fill="#ff0000"/>
<circle cx="1236.2" cy="229.0" r="12" fill="#ff0000"/>
<circle cx="1262.5" cy="162.0" r="12" fill="#ff0000"/>
<circle cx="1288.7" cy="145.0" r="12" fill="#ff0000"/>
<circle cx="1315.0" cy="159.0" r="12" fill="#ff0000"/>
<circle cx="1341.2" cy="148.0" r="12" fill="#ff0000"/>
<line x1="911.8" y1="497.8" x2="952.7" y2="497.8" stroke="#ff8282" stroke-width="1.2"/>
<circle cx="932.4" cy="497.8" r="3.5" fill="#fff" stroke="#ff8282" stroke-width="2.2"/>
<line x1="911.8" y1="538.7" x2="952.7" y2="538.7" stroke="#ffa3a3" stroke-width="2.2"/>
<circle cx="932.4" cy="538.7" r="4.3" fill="#ffa3a3"/>
<circle cx="932.1" cy="583" r="12" fill="#ff0000"/>
<g transform="translate(974.75,508.10) scale(1,1.010)"><text font-size="32.30">Male</text></g>
<g transform="translate(974.75,550.00) scale(1,1.010)"><text font-size="32.30">Female</text></g>
<g transform="translate(974.35,594.00) scale(1,1.010)"><text font-size="32.30">Mean</text></g>
<rect x="813.4" y="57" width="6" height="568.7" fill="#000"/>
<rect x="804" y="619.3" width="538.5" height="6.4" fill="#000"/>
<rect x="804" y="618.9" width="10" height="6.2" fill="#000"/>
<g transform="translate(779.67,634.20) scale(1,1.050)"><text font-size="37.00">0</text></g>
<rect x="804" y="567.4" width="10" height="6.2" fill="#000"/>
<g transform="translate(759.09,582.70) scale(1,1.050)"><text font-size="37.00"> 0</text><path d="M763 0L583 0L583 1098Q518 1038 412.5 979Q307 920 223 890L223 1057Q374 1124 487 1221Q600 1318 647 1409L763 1409Z" transform="translate(0.00,0) scale(0.01807,-0.01807)"/></g>
<rect x="804" y="515.9" width="10" height="6.2" fill="#000"/>
<g transform="translate(759.09,531.20) scale(1,1.050)"><text font-size="37.00">20</text></g>
<rect x="804" y="464.4" width="10" height="6.2" fill="#000"/>
<g transform="translate(759.09,479.70) scale(1,1.050)"><text font-size="37.00">30</text></g>
<rect x="804" y="412.9" width="10" height="6.2" fill="#000"/>
<g transform="translate(759.09,428.20) scale(1,1.050)"><text font-size="37.00">40</text></g>
<rect x="804" y="361.4" width="10" height="6.2" fill="#000"/>
<g transform="translate(759.09,376.70) scale(1,1.050)"><text font-size="37.00">50</text></g>
<rect x="804" y="309.9" width="10" height="6.2" fill="#000"/>
<g transform="translate(759.09,325.20) scale(1,1.050)"><text font-size="37.00">60</text></g>
<rect x="804" y="258.4" width="10" height="6.2" fill="#000"/>
<g transform="translate(759.09,273.70) scale(1,1.050)"><text font-size="37.00">70</text></g>
<rect x="804" y="206.9" width="10" height="6.2" fill="#000"/>
<g transform="translate(759.09,222.20) scale(1,1.050)"><text font-size="37.00">80</text></g>
<rect x="804" y="155.4" width="10" height="6.2" fill="#000"/>
<g transform="translate(759.09,170.70) scale(1,1.050)"><text font-size="37.00">90</text></g>
<rect x="804" y="103.9" width="10" height="6.2" fill="#000"/>
<g transform="translate(738.51,119.20) scale(1,1.050)"><text font-size="37.00"> 00</text><path d="M763 0L583 0L583 1098Q518 1038 412.5 979Q307 920 223 890L223 1057Q374 1124 487 1221Q600 1318 647 1409L763 1409Z" transform="translate(0.00,0) scale(0.01807,-0.01807)"/></g>
<rect x="813.4" y="620" width="6" height="15" fill="#000"/>
<g transform="translate(806.64,675.20) scale(1,1.035)"><text font-size="37.00" font-weight="bold">0</text></g>
<rect x="944.6" y="620" width="6" height="15" fill="#000"/>
<g transform="translate(937.76,675.20) scale(1,1.035)"><text font-size="37.00" font-weight="bold">5</text></g>
<rect x="1075.8" y="620" width="6" height="15" fill="#000"/>
<g transform="translate(1058.02,675.20) scale(1,1.035)"><text font-size="37.00" font-weight="bold"> 0</text><path d="M806 0L525 0L525 1013Q371 876 162 810L162 1054Q272 1088 401 1185Q530 1282 578 1409L806 1409Z" transform="translate(0.00,0) scale(0.01807,-0.01807)"/></g>
<rect x="1207.0" y="620" width="6" height="15" fill="#000"/>
<g transform="translate(1188.97,675.20) scale(1,1.035)"><text font-size="37.00" font-weight="bold"> 5</text><path d="M806 0L525 0L525 1013Q371 876 162 810L162 1054Q272 1088 401 1185Q530 1282 578 1409L806 1409Z" transform="translate(0.00,0) scale(0.01807,-0.01807)"/></g>
<rect x="1338.2" y="620" width="6" height="15" fill="#000"/>
<g transform="translate(1321.24,675.20) scale(1,1.035)"><text font-size="37.00" font-weight="bold">20</text></g>
<g transform="translate(1005.17,722.50) scale(1,1.010)"><text font-size="42.50">Sessions</text></g>
<g transform="translate(726.70,495.19) rotate(-90) scale(1,1.010)"><text font-size="42.60">Percent correct</text></g>
<g transform="translate(7.20,819.00) scale(1,1.040)"><text font-size="37.50">C</text></g>
<g transform="translate(31.60,1310.73) rotate(-90) scale(1,1.010)"><text font-size="42.40">Sessions to criterion</text></g>
<rect x="106.8" y="897.4" width="223.6" height="452" fill="#f6e5e6"/>
<rect x="100.50" y="897.4" width="5.9" height="456" fill="#000"/>
<rect x="91.0" y="1347.3" width="239.4" height="6" fill="#000"/>
<rect x="91.0" y="1321.77" width="12.5" height="5.9" fill="#000"/>
<g transform="translate(70.33,1335.12) scale(1,1.040)"><text font-size="33.00">3</text></g>
<rect x="91.0" y="1296.04" width="12.5" height="5.9" fill="#000"/>
<g transform="translate(70.33,1309.39) scale(1,1.040)"><text font-size="33.00">4</text></g>
<rect x="91.0" y="1270.31" width="12.5" height="5.9" fill="#000"/>
<g transform="translate(70.33,1283.66) scale(1,1.040)"><text font-size="33.00">5</text></g>
<rect x="91.0" y="1244.58" width="12.5" height="5.9" fill="#000"/>
<g transform="translate(70.33,1257.93) scale(1,1.040)"><text font-size="33.00">6</text></g>
<rect x="91.0" y="1218.85" width="12.5" height="5.9" fill="#000"/>
<g transform="translate(70.33,1232.20) scale(1,1.040)"><text font-size="33.00">7</text></g>
<rect x="91.0" y="1193.12" width="12.5" height="5.9" fill="#000"/>
<g transform="translate(70.33,1206.47) scale(1,1.040)"><text font-size="33.00">8</text></g>
<rect x="91.0" y="1167.39" width="12.5" height="5.9" fill="#000"/>
<g transform="translate(70.33,1180.74) scale(1,1.040)"><text font-size="33.00">9</text></g>
<rect x="91.0" y="1141.66" width="12.5" height="5.9" fill="#000"/>
<g transform="translate(51.98,1155.01) scale(1,1.040)"><text font-size="33.00"> 0</text><path d="M763 0L583 0L583 1098Q518 1038 412.5 979Q307 920 223 890L223 1057Q374 1124 487 1221Q600 1318 647 1409L763 1409Z" transform="translate(0.00,0) scale(0.01611,-0.01611)"/></g>
<rect x="91.0" y="1115.93" width="12.5" height="5.9" fill="#000"/>
<g transform="translate(51.98,1129.28) scale(1,1.040)"><text font-size="33.00">  </text><path d="M763 0L583 0L583 1098Q518 1038 412.5 979Q307 920 223 890L223 1057Q374 1124 487 1221Q600 1318 647 1409L763 1409Z" transform="translate(0.00,0) scale(0.01611,-0.01611)"/><path d="M763 0L583 0L583 1098Q518 1038 412.5 979Q307 920 223 890L223 1057Q374 1124 487 1221Q600 1318 647 1409L763 1409Z" transform="translate(18.35,0) scale(0.01611,-0.01611)"/></g>
<rect x="91.0" y="1090.20" width="12.5" height="5.9" fill="#000"/>
<g transform="translate(51.98,1103.55) scale(1,1.040)"><text font-size="33.00"> 2</text><path d="M763 0L583 0L583 1098Q518 1038 412.5 979Q307 920 223 890L223 1057Q374 1124 487 1221Q600 1318 647 1409L763 1409Z" transform="translate(0.00,0) scale(0.01611,-0.01611)"/></g>
<rect x="91.0" y="1064.47" width="12.5" height="5.9" fill="#000"/>
<g transform="translate(51.98,1077.82) scale(1,1.040)"><text font-size="33.00"> 3</text><path d="M763 0L583 0L583 1098Q518 1038 412.5 979Q307 920 223 890L223 1057Q374 1124 487 1221Q600 1318 647 1409L763 1409Z" transform="translate(0.00,0) scale(0.01611,-0.01611)"/></g>
<rect x="91.0" y="1038.74" width="12.5" height="5.9" fill="#000"/>
<g transform="translate(51.98,1052.09) scale(1,1.040)"><text font-size="33.00"> 4</text><path d="M763 0L583 0L583 1098Q518 1038 412.5 979Q307 920 223 890L223 1057Q374 1124 487 1221Q600 1318 647 1409L763 1409Z" transform="translate(0.00,0) scale(0.01611,-0.01611)"/></g>
<rect x="91.0" y="1013.01" width="12.5" height="5.9" fill="#000"/>
<g transform="translate(51.98,1026.36) scale(1,1.040)"><text font-size="33.00"> 5</text><path d="M763 0L583 0L583 1098Q518 1038 412.5 979Q307 920 223 890L223 1057Q374 1124 487 1221Q600 1318 647 1409L763 1409Z" transform="translate(0.00,0) scale(0.01611,-0.01611)"/></g>
<rect x="91.0" y="987.28" width="12.5" height="5.9" fill="#000"/>
<g transform="translate(42.47,998.93) scale(1,1.040)"><text font-size="33.00">NR</text></g>
<rect x="91.0" y="961.55" width="12.5" height="5.9" fill="#000"/>
<rect x="91.0" y="935.82" width="12.5" height="5.9" fill="#000"/>
<rect x="91.0" y="910.09" width="12.5" height="5.9" fill="#000"/>
<g transform="translate(70.33,1364.00) scale(1,1.040)"><text font-size="33.00">0</text></g>
<polygon points="96.0,1337.3 111.0,1330.2 111.0,1338.7 96.0,1345.8" fill="#fff"/><line x1="96.0" y1="1337.3" x2="111.0" y2="1330.2" stroke="#000" stroke-width="3.4"/><line x1="96.0" y1="1345.8" x2="111.0" y2="1338.7" stroke="#000" stroke-width="3.4"/>
<rect x="156.7" y="1350" width="5.6" height="12.5" fill="#000"/>
<rect x="268.6" y="1350" width="5.6" height="12.5" fill="#000"/>
<g transform="translate(134.82,1408.00) scale(1,1.040)"><text font-size="37.50"> T</text><path d="M763 0L583 0L583 1098Q518 1038 412.5 979Q307 920 223 890L223 1057Q374 1124 487 1221Q600 1318 647 1409L763 1409Z" transform="translate(0.00,0) scale(0.01831,-0.01831)"/></g>
<g transform="translate(228.01,1408.00) scale(1,1.040)"><text font-size="37.50">m3T</text></g>
<rect x="113.2" y="1090.1" width="92.8" height="6.1" fill="#000"/>
<rect x="225.1" y="1270.2" width="93.3" height="6.1" fill="#000"/>
<circle cx="159.6" cy="990.2" r="8.50" fill="#0a0aff" stroke="#0000c4" stroke-width="2.2"/>
<circle cx="129.5" cy="1093.2" r="7.5" fill="#fff" stroke="#0000c4" stroke-width="4.1"/>
<circle cx="159.6" cy="1093.2" r="7.5" fill="#fff" stroke="#0000c4" stroke-width="4.1"/>
<circle cx="189.6" cy="1093.2" r="7.5" fill="#fff" stroke="#0000c4" stroke-width="4.1"/>
<circle cx="159.6" cy="1118.9" r="8.50" fill="#0a0aff" stroke="#0000c4" stroke-width="2.2"/>
<circle cx="159.6" cy="1196.1" r="7.5" fill="#fff" stroke="#0000c4" stroke-width="4.1"/>
<circle cx="159.6" cy="1221.8" r="8.50" fill="#0a0aff" stroke="#0000c4" stroke-width="2.2"/>
<circle cx="271.4" cy="1196.1" r="7.5" fill="#fff" stroke="#ff0000" stroke-width="4.1"/>
<circle cx="271.4" cy="1221.8" r="9.60" fill="#ff0000"/>
<circle cx="256.1" cy="1273.3" r="7.5" fill="#fff" stroke="#ff0000" stroke-width="4.1"/>
<circle cx="286.6" cy="1273.3" r="9.60" fill="#ff0000"/>
<circle cx="271.4" cy="1299.0" r="7.5" fill="#fff" stroke="#ff0000" stroke-width="4.1"/>
<path d="M159.5,891.5 L159.5,862.8 L282.1,862.8 L282.1,891.5" fill="none" stroke="#000" stroke-width="3.6"/>
<path d="M0,0 L-2.30,-8.60 A2.30 2.30 0 0 1 2.30,-8.60 Z" fill="#000" transform="translate(219.5,845.8) rotate(0)"/><line x1="0" y1="0" x2="0" y2="-8.9" stroke="#000" stroke-width="1.2" transform="translate(219.5,845.8) rotate(0)"/><path d="M0,0 L-2.30,-8.60 A2.30 2.30 0 0 1 2.30,-8.60 Z" fill="#000" transform="translate(219.5,845.8) rotate(60)"/><line x1="0" y1="0" x2="0" y2="-8.9" stroke="#000" stroke-width="1.2" transform="translate(219.5,845.8) rotate(60)"/><path d="M0,0 L-2.30,-8.60 A2.30 2.30 0 0 1 2.30,-8.60 Z" fill="#000" transform="translate(219.5,845.8) rotate(120)"/><line x1="0" y1="0" x2="0" y2="-8.9" stroke="#000" stroke-width="1.2" transform="translate(219.5,845.8) rotate(120)"/><path d="M0,0 L-2.30,-8.60 A2.30 2.30 0 0 1 2.30,-8.60 Z" fill="#000" transform="translate(219.5,845.8) rotate(180)"/><line x1="0" y1="0" x2="0" y2="-8.9" stroke="#000" stroke-width="1.2" transform="translate(219.5,845.8) rotate(180)"/><path d="M0,0 L-2.30,-8.60 A2.30 2.30 0 0 1 2.30,-8.60 Z" fill="#000" transform="translate(219.5,845.8) rotate(240)"/><line x1="0" y1="0" x2="0" y2="-8.9" stroke="#000" stroke-width="1.2" transform="translate(219.5,845.8) rotate(240)"/><path d="M0,0 L-2.30,-8.60 A2.30 2.30 0 0 1 2.30,-8.60 Z" fill="#000" transform="translate(219.5,845.8) rotate(300)"/><line x1="0" y1="0" x2="0" y2="-8.9" stroke="#000" stroke-width="1.2" transform="translate(219.5,845.8) rotate(300)"/>
<rect x="397.8" y="897.4" width="224.8" height="452" fill="#e6e5f6"/>
<rect x="392.05" y="897.4" width="5.9" height="456" fill="#000"/>
<rect x="382.5" y="1347.3" width="240.1" height="6" fill="#000"/>
<rect x="382.5" y="1322.32" width="12.5" height="5.9" fill="#000"/>
<g transform="translate(360.83,1335.67) scale(1,1.040)"><text font-size="33.00">3</text></g>
<rect x="382.5" y="1296.59" width="12.5" height="5.9" fill="#000"/>
<g transform="translate(360.83,1309.94) scale(1,1.040)"><text font-size="33.00">4</text></g>
<rect x="382.5" y="1270.86" width="12.5" height="5.9" fill="#000"/>
<g transform="translate(360.83,1284.21) scale(1,1.040)"><text font-size="33.00">5</text></g>
<rect x="382.5" y="1245.13" width="12.5" height="5.9" fill="#000"/>
<g transform="translate(360.83,1258.48) scale(1,1.040)"><text font-size="33.00">6</text></g>
<rect x="382.5" y="1219.40" width="12.5" height="5.9" fill="#000"/>
<g transform="translate(360.83,1232.75) scale(1,1.040)"><text font-size="33.00">7</text></g>
<rect x="382.5" y="1193.67" width="12.5" height="5.9" fill="#000"/>
<g transform="translate(360.83,1207.02) scale(1,1.040)"><text font-size="33.00">8</text></g>
<rect x="382.5" y="1167.94" width="12.5" height="5.9" fill="#000"/>
<g transform="translate(360.83,1181.29) scale(1,1.040)"><text font-size="33.00">9</text></g>
<rect x="382.5" y="1142.21" width="12.5" height="5.9" fill="#000"/>
<g transform="translate(342.48,1155.56) scale(1,1.040)"><text font-size="33.00"> 0</text><path d="M763 0L583 0L583 1098Q518 1038 412.5 979Q307 920 223 890L223 1057Q374 1124 487 1221Q600 1318 647 1409L763 1409Z" transform="translate(0.00,0) scale(0.01611,-0.01611)"/></g>
<rect x="382.5" y="1116.48" width="12.5" height="5.9" fill="#000"/>
<g transform="translate(342.48,1129.83) scale(1,1.040)"><text font-size="33.00">  </text><path d="M763 0L583 0L583 1098Q518 1038 412.5 979Q307 920 223 890L223 1057Q374 1124 487 1221Q600 1318 647 1409L763 1409Z" transform="translate(0.00,0) scale(0.01611,-0.01611)"/><path d="M763 0L583 0L583 1098Q518 1038 412.5 979Q307 920 223 890L223 1057Q374 1124 487 1221Q600 1318 647 1409L763 1409Z" transform="translate(18.35,0) scale(0.01611,-0.01611)"/></g>
<rect x="382.5" y="1090.75" width="12.5" height="5.9" fill="#000"/>
<g transform="translate(342.48,1104.10) scale(1,1.040)"><text font-size="33.00"> 2</text><path d="M763 0L583 0L583 1098Q518 1038 412.5 979Q307 920 223 890L223 1057Q374 1124 487 1221Q600 1318 647 1409L763 1409Z" transform="translate(0.00,0) scale(0.01611,-0.01611)"/></g>
<rect x="382.5" y="1065.02" width="12.5" height="5.9" fill="#000"/>
<g transform="translate(342.48,1078.37) scale(1,1.040)"><text font-size="33.00"> 3</text><path d="M763 0L583 0L583 1098Q518 1038 412.5 979Q307 920 223 890L223 1057Q374 1124 487 1221Q600 1318 647 1409L763 1409Z" transform="translate(0.00,0) scale(0.01611,-0.01611)"/></g>
<rect x="382.5" y="1039.29" width="12.5" height="5.9" fill="#000"/>
<g transform="translate(342.48,1052.64) scale(1,1.040)"><text font-size="33.00"> 4</text><path d="M763 0L583 0L583 1098Q518 1038 412.5 979Q307 920 223 890L223 1057Q374 1124 487 1221Q600 1318 647 1409L763 1409Z" transform="translate(0.00,0) scale(0.01611,-0.01611)"/></g>
<rect x="382.5" y="1013.56" width="12.5" height="5.9" fill="#000"/>
<g transform="translate(342.48,1026.91) scale(1,1.040)"><text font-size="33.00"> 5</text><path d="M763 0L583 0L583 1098Q518 1038 412.5 979Q307 920 223 890L223 1057Q374 1124 487 1221Q600 1318 647 1409L763 1409Z" transform="translate(0.00,0) scale(0.01611,-0.01611)"/></g>
<rect x="382.5" y="987.83" width="12.5" height="5.9" fill="#000"/>
<g transform="translate(342.48,1001.18) scale(1,1.040)"><text font-size="33.00"> 6</text><path d="M763 0L583 0L583 1098Q518 1038 412.5 979Q307 920 223 890L223 1057Q374 1124 487 1221Q600 1318 647 1409L763 1409Z" transform="translate(0.00,0) scale(0.01611,-0.01611)"/></g>
<rect x="382.5" y="962.10" width="12.5" height="5.9" fill="#000"/>
<g transform="translate(342.48,975.45) scale(1,1.040)"><text font-size="33.00"> 7</text><path d="M763 0L583 0L583 1098Q518 1038 412.5 979Q307 920 223 890L223 1057Q374 1124 487 1221Q600 1318 647 1409L763 1409Z" transform="translate(0.00,0) scale(0.01611,-0.01611)"/></g>
<rect x="382.5" y="936.37" width="12.5" height="5.9" fill="#000"/>
<g transform="translate(342.48,949.72) scale(1,1.040)"><text font-size="33.00"> 8</text><path d="M763 0L583 0L583 1098Q518 1038 412.5 979Q307 920 223 890L223 1057Q374 1124 487 1221Q600 1318 647 1409L763 1409Z" transform="translate(0.00,0) scale(0.01611,-0.01611)"/></g>
<rect x="382.5" y="910.64" width="12.5" height="5.9" fill="#000"/>
<g transform="translate(342.48,923.99) scale(1,1.040)"><text font-size="33.00"> 9</text><path d="M763 0L583 0L583 1098Q518 1038 412.5 979Q307 920 223 890L223 1057Q374 1124 487 1221Q600 1318 647 1409L763 1409Z" transform="translate(0.00,0) scale(0.01611,-0.01611)"/></g>
<g transform="translate(360.83,1364.00) scale(1,1.040)"><text font-size="33.00">0</text></g>
<polygon points="387.0,1337.0 403.0,1329.5 403.0,1338.0 387.0,1345.5" fill="#fff"/><line x1="387.0" y1="1337.0" x2="403.0" y2="1329.5" stroke="#000" stroke-width="3.4"/><line x1="387.0" y1="1345.5" x2="403.0" y2="1338.0" stroke="#000" stroke-width="3.4"/>
<rect x="448.1" y="1350" width="5.6" height="12.7" fill="#000"/>
<rect x="559.8" y="1350" width="5.6" height="12.7" fill="#000"/>
<g transform="translate(426.62,1408.00) scale(1,1.040)"><text font-size="37.50"> T</text><path d="M763 0L583 0L583 1098Q518 1038 412.5 979Q307 920 223 890L223 1057Q374 1124 487 1221Q600 1318 647 1409L763 1409Z" transform="translate(0.00,0) scale(0.01831,-0.01831)"/></g>
<g transform="translate(520.41,1408.00) scale(1,1.040)"><text font-size="37.50">m3T</text></g>
<rect x="404.7" y="1013.5" width="93.1" height="6.1" fill="#000"/>
<rect x="517" y="1219.3" width="92.5" height="6.1" fill="#000"/>
<circle cx="451.1" cy="913.6" r="7.5" fill="#fff" stroke="#0000c4" stroke-width="4.1"/>
<circle cx="451.1" cy="939.3" r="7.5" fill="#fff" stroke="#0000c4" stroke-width="4.1"/>
<circle cx="451.1" cy="965.1" r="7.5" fill="#fff" stroke="#0000c4" stroke-width="4.1"/>
<circle cx="451.1" cy="1093.7" r="7.5" fill="#fff" stroke="#0000c4" stroke-width="4.1"/>
<circle cx="451.1" cy="1068.0" r="8.50" fill="#0a0aff" stroke="#0000c4" stroke-width="2.2"/>
<circle cx="451.1" cy="1119.4" r="8.50" fill="#0a0aff" stroke="#0000c4" stroke-width="2.2"/>
<circle cx="562.6" cy="1196.6" r="9.60" fill="#ff0000"/>
<circle cx="533.1" cy="1222.4" r="7.5" fill="#fff" stroke="#ff0000" stroke-width="4.1"/>
<circle cx="562.6" cy="1222.4" r="7.5" fill="#fff" stroke="#ff0000" stroke-width="4.1"/>
<circle cx="593.2" cy="1222.4" r="9.60" fill="#ff0000"/>
<circle cx="562.6" cy="1248.1" r="7.5" fill="#fff" stroke="#ff0000" stroke-width="4.1"/>
<path d="M450.2,891.3 L450.2,862.7 L573.4,862.7 L573.4,891.3" fill="none" stroke="#000" stroke-width="3.6"/>
<path d="M0,0 L-2.30,-8.60 A2.30 2.30 0 0 1 2.30,-8.60 Z" fill="#000" transform="translate(490.5,845.8) rotate(0)"/><line x1="0" y1="0" x2="0" y2="-8.9" stroke="#000" stroke-width="1.2" transform="translate(490.5,845.8) rotate(0)"/><path d="M0,0 L-2.30,-8.60 A2.30 2.30 0 0 1 2.30,-8.60 Z" fill="#000" transform="translate(490.5,845.8) rotate(60)"/><line x1="0" y1="0" x2="0" y2="-8.9" stroke="#000" stroke-width="1.2" transform="translate(490.5,845.8) rotate(60)"/><path d="M0,0 L-2.30,-8.60 A2.30 2.30 0 0 1 2.30,-8.60 Z" fill="#000" transform="translate(490.5,845.8) rotate(120)"/><line x1="0" y1="0" x2="0" y2="-8.9" stroke="#000" stroke-width="1.2" transform="translate(490.5,845.8) rotate(120)"/><path d="M0,0 L-2.30,-8.60 A2.30 2.30 0 0 1 2.30,-8.60 Z" fill="#000" transform="translate(490.5,845.8) rotate(180)"/><line x1="0" y1="0" x2="0" y2="-8.9" stroke="#000" stroke-width="1.2" transform="translate(490.5,845.8) rotate(180)"/><path d="M0,0 L-2.30,-8.60 A2.30 2.30 0 0 1 2.30,-8.60 Z" fill="#000" transform="translate(490.5,845.8) rotate(240)"/><line x1="0" y1="0" x2="0" y2="-8.9" stroke="#000" stroke-width="1.2" transform="translate(490.5,845.8) rotate(240)"/><path d="M0,0 L-2.30,-8.60 A2.30 2.30 0 0 1 2.30,-8.60 Z" fill="#000" transform="translate(490.5,845.8) rotate(300)"/><line x1="0" y1="0" x2="0" y2="-8.9" stroke="#000" stroke-width="1.2" transform="translate(490.5,845.8) rotate(300)"/>
<path d="M0,0 L-2.30,-8.60 A2.30 2.30 0 0 1 2.30,-8.60 Z" fill="#000" transform="translate(517.5,845.8) rotate(0)"/><line x1="0" y1="0" x2="0" y2="-8.9" stroke="#000" stroke-width="1.2" transform="translate(517.5,845.8) rotate(0)"/><path d="M0,0 L-2.30,-8.60 A2.30 2.30 0 0 1 2.30,-8.60 Z" fill="#000" transform="translate(517.5,845.8) rotate(60)"/><line x1="0" y1="0" x2="0" y2="-8.9" stroke="#000" stroke-width="1.2" transform="translate(517.5,845.8) rotate(60)"/><path d="M0,0 L-2.30,-8.60 A2.30 2.30 0 0 1 2.30,-8.60 Z" fill="#000" transform="translate(517.5,845.8) rotate(120)"/><line x1="0" y1="0" x2="0" y2="-8.9" stroke="#000" stroke-width="1.2" transform="translate(517.5,845.8) rotate(120)"/><path d="M0,0 L-2.30,-8.60 A2.30 2.30 0 0 1 2.30,-8.60 Z" fill="#000" transform="translate(517.5,845.8) rotate(180)"/><line x1="0" y1="0" x2="0" y2="-8.9" stroke="#000" stroke-width="1.2" transform="translate(517.5,845.8) rotate(180)"/><path d="M0,0 L-2.30,-8.60 A2.30 2.30 0 0 1 2.30,-8.60 Z" fill="#000" transform="translate(517.5,845.8) rotate(240)"/><line x1="0" y1="0" x2="0" y2="-8.9" stroke="#000" stroke-width="1.2" transform="translate(517.5,845.8) rotate(240)"/><path d="M0,0 L-2.30,-8.60 A2.30 2.30 0 0 1 2.30,-8.60 Z" fill="#000" transform="translate(517.5,845.8) rotate(300)"/><line x1="0" y1="0" x2="0" y2="-8.9" stroke="#000" stroke-width="1.2" transform="translate(517.5,845.8) rotate(300)"/>
<g transform="translate(694.62,818.70) scale(1,1.040)"><text font-size="37.50">D</text></g>
<g transform="translate(778.60,1451.64) rotate(-90) scale(1,1.010)"><text font-size="42.50">Highest performance of Individuals</text></g>
<rect x="863.1" y="899.8" width="226.1" height="451" fill="#f6e5e6"/>
<rect x="857.3" y="900.4" width="5.8" height="455.4" fill="#000"/>
<rect x="857.3" y="1350" width="231.9" height="5.8" fill="#000"/>
<rect x="848.0" y="901.0" width="9.5" height="6" fill="#000"/>
<g transform="translate(791.51,914.40) scale(1,1.040)"><text font-size="31.60"> 00</text><path d="M763 0L583 0L583 1098Q518 1038 412.5 979Q307 920 223 890L223 1057Q374 1124 487 1221Q600 1318 647 1409L763 1409Z" transform="translate(0.00,0) scale(0.01543,-0.01543)"/></g>
<rect x="848.0" y="990.4" width="9.5" height="6" fill="#000"/>
<g transform="translate(809.09,1003.80) scale(1,1.040)"><text font-size="31.60">90</text></g>
<rect x="848.0" y="1079.8" width="9.5" height="6" fill="#000"/>
<g transform="translate(809.09,1093.20) scale(1,1.040)"><text font-size="31.60">80</text></g>
<rect x="848.0" y="1169.2" width="9.5" height="6" fill="#000"/>
<g transform="translate(809.09,1182.60) scale(1,1.040)"><text font-size="31.60">70</text></g>
<rect x="848.0" y="1258.6" width="9.5" height="6" fill="#000"/>
<g transform="translate(809.09,1272.00) scale(1,1.040)"><text font-size="31.60">60</text></g>
<g transform="translate(826.66,1365.90) scale(1,1.040)"><text font-size="31.60">0</text></g>
<polygon points="852.0,1310.8 868.4,1297.2 868.4,1306.2 852.0,1319.8" fill="#fff"/><line x1="852.0" y1="1310.8" x2="868.4" y2="1297.2" stroke="#000" stroke-width="3.4"/><line x1="852.0" y1="1319.8" x2="868.4" y2="1306.2" stroke="#000" stroke-width="3.4"/>
<rect x="921.0" y="1352" width="5.8" height="13.6" fill="#000"/>
<rect x="1017.0" y="1352" width="5.8" height="13.6" fill="#000"/>
<g transform="translate(897.62,1408.00) scale(1,1.040)"><text font-size="37.50"> T</text><path d="M763 0L583 0L583 1098Q518 1038 412.5 979Q307 920 223 890L223 1057Q374 1124 487 1221Q600 1318 647 1409L763 1409Z" transform="translate(0.00,0) scale(0.01831,-0.01831)"/></g>
<g transform="translate(981.31,1408.00) scale(1,1.040)"><text font-size="37.50">m3T</text></g>
<rect x="884.2" y="1023.8" width="80.3" height="6" fill="#000"/>
<rect x="980.3" y="939.8" width="79.9" height="6" fill="#000"/>
<circle cx="924.0" cy="939.0" r="7.5" fill="#fff" stroke="#0000ff" stroke-width="4.1"/>
<circle cx="909.0" cy="957.6" r="7.5" fill="#fff" stroke="#0000ff" stroke-width="4.1"/>
<circle cx="939.8" cy="957.6" r="9.60" fill="#0000ff"/>
<circle cx="924.0" cy="1002.2" r="9.60" fill="#0000ff"/>
<circle cx="924.0" cy="1065.2" r="7.5" fill="#fff" stroke="#0000ff" stroke-width="4.1"/>
<circle cx="924.0" cy="1091.9" r="7.5" fill="#fff" stroke="#0000ff" stroke-width="4.1"/>
<circle cx="924.0" cy="1173.0" r="9.60" fill="#0000ff"/>
<circle cx="1020.1" cy="912.4" r="9.60" fill="#ff0000"/>
<circle cx="1044.6" cy="939.0" r="7.5" fill="#fff" stroke="#ff0000" stroke-width="4.1"/>
<circle cx="1020.1" cy="948.3" r="9.60" fill="#ff0000"/>
<circle cx="995.8" cy="957.6" r="7.5" fill="#fff" stroke="#ff0000" stroke-width="4.1"/>
<circle cx="1044.6" cy="957.6" r="7.5" fill="#fff" stroke="#ff0000" stroke-width="4.1"/>
<rect x="1156.9" y="899.8" width="224.1" height="451" fill="#e6e5f6"/>
<rect x="1151.1" y="900.4" width="5.8" height="455.4" fill="#000"/>
<rect x="1151.1" y="1350" width="229.9" height="5.8" fill="#000"/>
<rect x="1141.8" y="901.0" width="9.5" height="6" fill="#000"/>
<g transform="translate(1084.41,914.40) scale(1,1.040)"><text font-size="31.60"> 00</text><path d="M763 0L583 0L583 1098Q518 1038 412.5 979Q307 920 223 890L223 1057Q374 1124 487 1221Q600 1318 647 1409L763 1409Z" transform="translate(0.00,0) scale(0.01543,-0.01543)"/></g>
<rect x="1141.8" y="990.4" width="9.5" height="6" fill="#000"/>
<g transform="translate(1101.99,1003.80) scale(1,1.040)"><text font-size="31.60">90</text></g>
<rect x="1141.8" y="1079.8" width="9.5" height="6" fill="#000"/>
<g transform="translate(1101.99,1093.20) scale(1,1.040)"><text font-size="31.60">80</text></g>
<rect x="1141.8" y="1169.2" width="9.5" height="6" fill="#000"/>
<g transform="translate(1101.99,1182.60) scale(1,1.040)"><text font-size="31.60">70</text></g>
<rect x="1141.8" y="1258.6" width="9.5" height="6" fill="#000"/>
<g transform="translate(1101.99,1272.00) scale(1,1.040)"><text font-size="31.60">60</text></g>
<g transform="translate(1119.56,1365.90) scale(1,1.040)"><text font-size="31.60">0</text></g>
<polygon points="1145.8,1310.8 1162.2,1297.2 1162.2,1306.2 1145.8,1319.8" fill="#fff"/><line x1="1145.8" y1="1310.8" x2="1162.2" y2="1297.2" stroke="#000" stroke-width="3.4"/><line x1="1145.8" y1="1319.8" x2="1162.2" y2="1306.2" stroke="#000" stroke-width="3.4"/>
<rect x="1207.0" y="1352" width="5.8" height="13.6" fill="#000"/>
<rect x="1319.4" y="1352" width="5.8" height="13.6" fill="#000"/>
<g transform="translate(1166.12,1408.00) scale(1,1.040)"><text font-size="37.50"> T</text><path d="M763 0L583 0L583 1098Q518 1038 412.5 979Q307 920 223 890L223 1057Q374 1124 487 1221Q600 1318 647 1409L763 1409Z" transform="translate(0.00,0) scale(0.01831,-0.01831)"/></g>
<g transform="translate(1260.41,1408.00) scale(1,1.040)"><text font-size="37.50">m3T</text></g>
<rect x="1163" y="987" width="94" height="6.2" fill="#000"/>
<rect x="1275.1" y="952.4" width="93.8" height="6" fill="#000"/>
<circle cx="1180.1" cy="930.7" r="7.5" fill="#fff" stroke="#0000c4" stroke-width="4.1"/>
<circle cx="1210.5" cy="939.4" r="8.50" fill="#0a0aff" stroke="#0000c4" stroke-width="2.2"/>
<circle cx="1240.0" cy="939.4" r="8.50" fill="#0a0aff" stroke="#0000c4" stroke-width="2.2"/>
<circle cx="1210.0" cy="1029.3" r="7.5" fill="#fff" stroke="#0000c4" stroke-width="4.1"/>
<circle cx="1224.7" cy="1047.2" r="7.5" fill="#fff" stroke="#0000c4" stroke-width="4.1"/>
<circle cx="1195.2" cy="1055.9" r="7.5" fill="#fff" stroke="#0000c4" stroke-width="4.1"/>
<circle cx="1292.0" cy="948.2" r="7.5" fill="#fff" stroke="#ff0000" stroke-width="4.1"/>
<circle cx="1322.1" cy="956.9" r="9.60" fill="#ff0000"/>
<circle cx="1322.1" cy="975.5" r="7.5" fill="#fff" stroke="#ff0000" stroke-width="4.1"/>
<circle cx="1352.1" cy="939.0" r="7.5" fill="#fff" stroke="#ff0000" stroke-width="4.1"/>
<circle cx="1352.1" cy="956.9" r="9.60" fill="#ff0000"/>
</svg></body></html>
